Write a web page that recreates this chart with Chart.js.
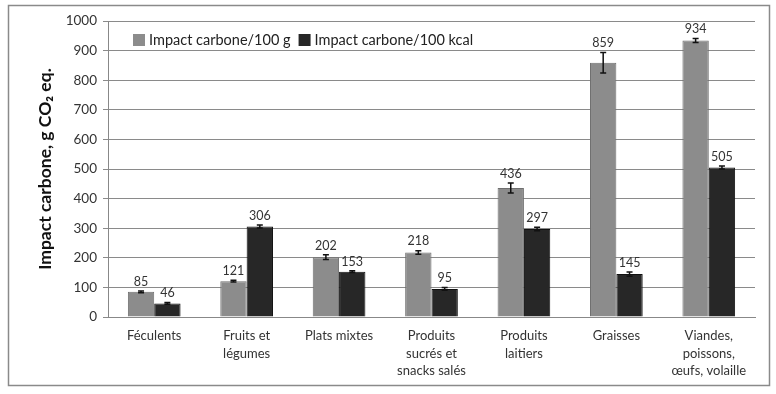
<!DOCTYPE html>
<html lang="fr">
<head>
  <meta charset="UTF-8" />
  <title>Impact carbone</title>
  <script src="https://cdn.jsdelivr.net/npm/chart.js"></script>
  <style>
    body { margin: 0; background: #fff; }
    #wrap { width: 776px; height: 394px; position: relative; }
  </style>
</head>
<body>
  <div id="wrap"><canvas id="c" width="776" height="394"></canvas></div>
  <script>
    const categories = [
      "Féculents",
      ["Fruits et", "légumes"],
      "Plats mixtes",
      ["Produits", "sucrés et", "snacks salés"],
      ["Produits", "laitiers"],
      "Graisses",
      ["Viandes,", "poissons,", "œufs, volaille"]
    ];
    const per100g = [85, 121, 202, 218, 436, 859, 934];
    const per100kcal = [46, 306, 153, 95, 297, 145, 505];
    const err100g = [3, 3, 8, 6, 17, 35, 7];
    const err100kcal = [3, 5, 3, 5, 6, 7, 5];
    const yTicks = [0, 100, 200, 300, 400, 500, 600, 700, 800, 900, 1000];

    const FONT = "Lato, 'Open Sans', sans-serif";

    // error bars, value labels, legend in the plot and the outer frame
    const extras = {
      id: "extras",
      afterDatasetsDraw(chart) {
        const ctx = chart.ctx;
        const y = chart.scales.y;
        const errs = [err100g, err100kcal];
        chart.data.datasets.forEach((ds, di) => {
          const meta = chart.getDatasetMeta(di);
          meta.data.forEach((bar, i) => {
            const v = ds.data[i];
            const e = errs[di][i];
            const top = y.getPixelForValue(v + e);
            const bot = y.getPixelForValue(v - e);
            ctx.save();
            ctx.strokeStyle = "#111";
            ctx.lineWidth = 1.5;
            ctx.beginPath();
            ctx.moveTo(bar.x, top); ctx.lineTo(bar.x, bot);
            ctx.moveTo(bar.x - 3, top); ctx.lineTo(bar.x + 3, top);
            ctx.moveTo(bar.x - 3, bot); ctx.lineTo(bar.x + 3, bot);
            ctx.stroke();
            ctx.fillStyle = "#333";
            ctx.font = "12.5px " + FONT;
            ctx.textAlign = "center";
            ctx.textBaseline = "bottom";
            ctx.fillText(String(v), bar.x, top - 3);
            ctx.restore();
          });
        });

        // legend, one row inside the plot
        const a = chart.chartArea;
        let lx = a.left + 25;
        const ly = a.top + 19;
        ctx.save();
        ctx.font = "14.5px " + FONT;
        ctx.textBaseline = "middle";
        chart.data.datasets.forEach(ds => {
          ctx.fillStyle = ds.backgroundColor;
          ctx.fillRect(lx, ly - 6, 12, 12);
          lx += 16;
          ctx.fillStyle = "#222";
          ctx.textAlign = "left";
          ctx.fillText(ds.label, lx, ly);
          lx += ctx.measureText(ds.label).width + 8;
        });
        ctx.restore();
      },
      afterDraw(chart) {
        const ctx = chart.ctx;
        ctx.save();
        ctx.strokeStyle = "#8a8a8a";
        ctx.lineWidth = 1.5;
        ctx.strokeRect(8.5, 5.5, 761, 380);
        ctx.restore();
      }
    };

    new Chart(document.getElementById("c"), {
      type: "bar",
      data: {
        labels: categories,
        datasets: [
          {
            label: "Impact carbone/100 g",
            data: per100g,
            backgroundColor: "#8c8c8c",
            borderColor: "#6f6f6f",
            borderWidth: 1
          },
          {
            label: "Impact carbone/100 kcal",
            data: per100kcal,
            backgroundColor: "#272727",
            borderColor: "#111",
            borderWidth: 1
          }
        ]
      },
      options: {
        responsive: false,
        animation: false,
        layout: { padding: { left: 8, right: 21, top: 21, bottom: 8 } },
        datasets: { bar: { categoryPercentage: 0.57, barPercentage: 1 } },
        plugins: {
          tooltip: { enabled: false },
          legend: { display: false }
        },
        scales: {
          x: {
            afterFit(s) { s.height = 69; },
            grid: { display: false, drawOnChartArea: false, offset: true, drawTicks: true, tickLength: 5, color: "#888" },
            border: { color: "#888" },
            ticks: { color: "#333", font: { family: FONT, size: 13, lineHeight: 1.35 }, padding: 5, maxRotation: 0, autoSkip: false }
          },
          y: {
            min: 0,
            max: 1000,
            afterFit(s) { s.width = 100; },
            afterBuildTicks(s) { s.ticks = yTicks.map(v => ({ value: v })); },
            grid: { color: "#8a8a8a", tickLength: 5, lineWidth: 1 },
            border: { color: "#888" },
            ticks: { color: "#333", font: { family: FONT, size: 13.5 }, padding: 6, callback: v => String(v) },
            title: {
              display: true,
              text: "Impact carbone, g CO₂ eq.",
              color: "#111",
              font: { family: FONT, size: 17.5, weight: "bold" },
              padding: { top: 27, bottom: 0 }
            }
          }
        }
      },
      plugins: [extras]
    });
  </script>
</body>
</html>
